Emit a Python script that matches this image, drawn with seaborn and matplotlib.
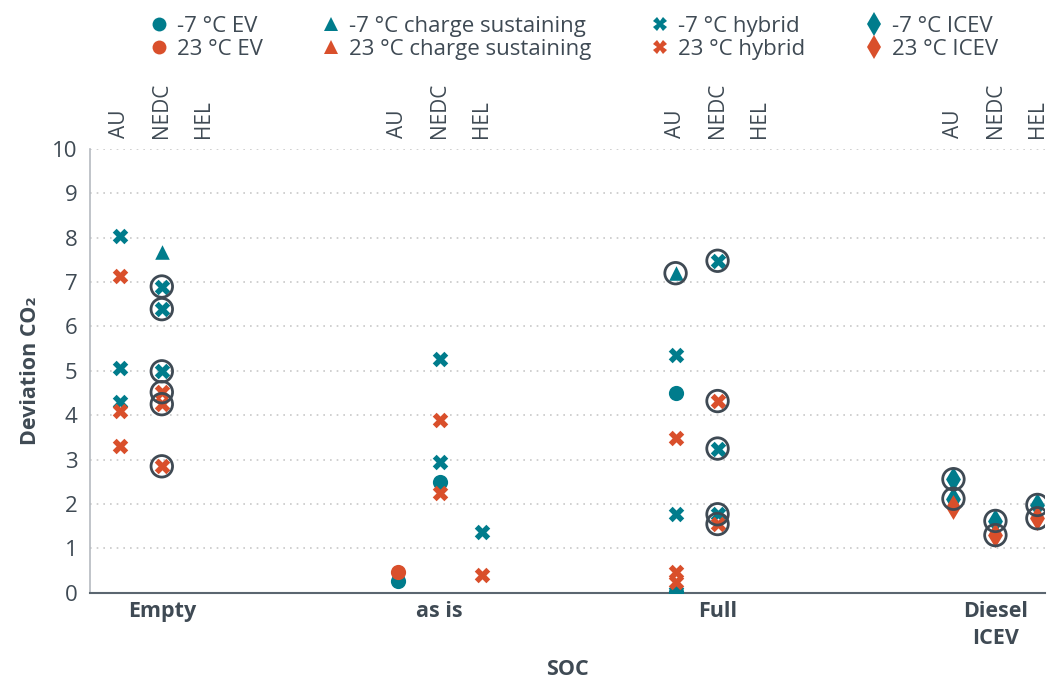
import matplotlib
matplotlib.use("Agg")
import matplotlib.pyplot as plt
import seaborn as sns
import pandas as pd
import numpy as np
from matplotlib.lines import Line2D

sns.set_theme(style="white")
plt.rcParams['font.family'] = ['Open Sans', 'DejaVu Sans']

# ---- data ----
groups = ["Empty", "as is", "Full", "Diesel\nICEV"]
cycles = ["AU", "NEDC", "HEL"]
series_labels = ["-7 °C EV", "23 °C EV", "-7 °C charge sustaining", "23 °C charge sustaining",
                 "-7 °C hybrid", "23 °C hybrid", "-7 °C ICEV", "23 °C ICEV"]

# each point: group index, cycle index, value, circled flag
ev_m7_group = [1, 1, 2, 2]
ev_m7_cycle = [0, 1, 0, 0]
ev_m7_value = [0.27, 2.50, 4.50, 0.02]
ev_m7_circ = [0, 0, 0, 0]

ev_23_group = [1]
ev_23_cycle = [0]
ev_23_value = [0.48]
ev_23_circ = [0]

cs_m7_group = [0, 2]
cs_m7_cycle = [1, 0]
cs_m7_value = [7.68, 7.20]
cs_m7_circ = [0, 1]

cs_23_group = []
cs_23_cycle = []
cs_23_value = []
cs_23_circ = []

hy_m7_group = [0, 0, 0, 0, 0, 0, 1, 1, 1, 2, 2, 2, 2, 2, 2]
hy_m7_cycle = [0, 0, 0, 1, 1, 1, 1, 1, 2, 0, 0, 0, 1, 1, 1]
hy_m7_value = [8.03, 5.06, 4.30, 6.90, 6.39, 4.99, 5.27, 2.94, 1.36, 5.36, 1.77, 0.02, 7.48, 3.25, 1.77]
hy_m7_circ = [0, 0, 0, 1, 1, 1, 0, 0, 0, 0, 0, 0, 1, 1, 1]

hy_23_group = [0, 0, 0, 0, 0, 0, 1, 1, 1, 2, 2, 2, 2, 2]
hy_23_cycle = [0, 0, 0, 1, 1, 1, 1, 1, 2, 0, 0, 0, 1, 1]
hy_23_value = [7.14, 4.09, 3.31, 4.52, 4.25, 2.85, 3.89, 2.26, 0.40, 3.48, 0.46, 0.25, 4.32, 1.55]
hy_23_circ = [0, 0, 0, 1, 1, 1, 0, 0, 0, 0, 0, 0, 1, 1]

ic_m7_group = [3, 3, 3, 3]
ic_m7_cycle = [0, 0, 1, 2]
ic_m7_value = [2.56, 2.12, 1.62, 1.98]
ic_m7_circ = [1, 1, 1, 1]

ic_23_group = [3, 3, 3]
ic_23_cycle = [0, 1, 2]
ic_23_value = [1.93, 1.30, 1.68]
ic_23_circ = [0, 1, 1]

# ---- style ----
TEAL = "#007C8C"
RED = "#D94F2B"
DARK = "#3F4A54"
GRID = "#C8C8C8"
GROUP_SPACING = 6.62

series = [
    (ev_m7_group, ev_m7_cycle, ev_m7_value, ev_m7_circ, TEAL, "o", 120),
    (ev_23_group, ev_23_cycle, ev_23_value, ev_23_circ, RED, "o", 120),
    (cs_m7_group, cs_m7_cycle, cs_m7_value, cs_m7_circ, TEAL, "^", 110),
    (cs_23_group, cs_23_cycle, cs_23_value, cs_23_circ, RED, "^", 110),
    (hy_m7_group, hy_m7_cycle, hy_m7_value, hy_m7_circ, TEAL, "X", 125),
    (hy_23_group, hy_23_cycle, hy_23_value, hy_23_circ, RED, "X", 125),
    (ic_m7_group, ic_m7_cycle, ic_m7_value, ic_m7_circ, TEAL, "d", 160),
    (ic_23_group, ic_23_cycle, ic_23_value, ic_23_circ, RED, "d", 160),
]

def xpos(g, c):
    return np.array(g, dtype=float) * GROUP_SPACING + (np.array(c, dtype=float) - 1)

fig = plt.figure(figsize=(10.57, 6.83), dpi=100)
ax = fig.add_axes([0.085, 0.132, 0.904, 0.650])

circ_x, circ_y = [], []
handles = []
for (g, c, v, circ, col, mk, s), lab in zip(series, series_labels):
    if len(v):
        df = pd.DataFrame({"x": xpos(g, c), "y": v})
        sns.scatterplot(data=df, x="x", y="y", color=col, marker=mk, s=s,
                        linewidth=0, ax=ax, legend=False, zorder=3)
        xs = xpos(g, c)
        for xi, yi, ci in zip(xs, v, circ):
            if ci:
                circ_x.append(xi)
                circ_y.append(yi)
    handles.append(Line2D([], [], linestyle="none", marker=mk, color=col,
                          markersize=10 if mk != "d" else 12, markeredgewidth=0, label=lab))

cdf = pd.DataFrame({"x": circ_x, "y": circ_y})
sns.scatterplot(data=cdf, x="x", y="y", s=240, facecolor="none", edgecolor=DARK,
                linewidth=2.0, ax=ax, legend=False, zorder=4)

# axes
ax.set_xlim(-1.714, 3 * GROUP_SPACING + 1.19)
ax.set_ylim(0, 10)
ax.set_yticks(range(0, 11))
ax.yaxis.grid(True, linestyle=(0, (1, 3)), color=GRID, linewidth=1.2)
ax.xaxis.grid(False)
ax.set_axisbelow(True)
for sp in ["top", "right"]:
    ax.spines[sp].set_visible(False)
ax.spines["left"].set_color("#B5BAC0")
ax.spines["left"].set_linewidth(1.2)
ax.spines["bottom"].set_color("#5B6670")
ax.spines["bottom"].set_linewidth(1.5)
ax.tick_params(axis="y", length=0, labelsize=16, labelcolor=DARK, pad=9)
ax.tick_params(axis="x", length=0, labelsize=15.5, labelcolor=DARK, pad=6)

centers = np.arange(len(groups)) * GROUP_SPACING
ax.set_xticks(centers)
ax.set_xticklabels(groups, fontweight="bold", linespacing=1.35, va="top")
ax.set_xlabel("SOC", fontsize=15.5, fontweight="bold", color=DARK)
ax.xaxis.set_label_coords(0.5, -0.148)
ax.set_ylabel("Deviation CO₂", fontsize=15.5, fontweight="bold", color=DARK, labelpad=8)

# top cycle labels
sec = ax.secondary_xaxis("top")
top_pos, top_lab = [], []
for gi in range(len(groups)):
    for ci, cl in enumerate(cycles):
        top_pos.append(gi * GROUP_SPACING + ci - 1)
        top_lab.append(cl)
sec.set_xticks(top_pos)
sec.set_xticklabels(top_lab, rotation=90, fontsize=15, color=DARK)
sec.tick_params(length=0, pad=8)
sec.spines["top"].set_visible(False)

fig.legend(handles=handles, loc="upper center", bbox_to_anchor=(0.542, 1.006), ncol=4,
           frameon=False, fontsize=16, handletextpad=0.3, columnspacing=2.6,
           labelspacing=0.1, handlelength=1.0, labelcolor=DARK)

fig.savefig("out.png", dpi=100)
